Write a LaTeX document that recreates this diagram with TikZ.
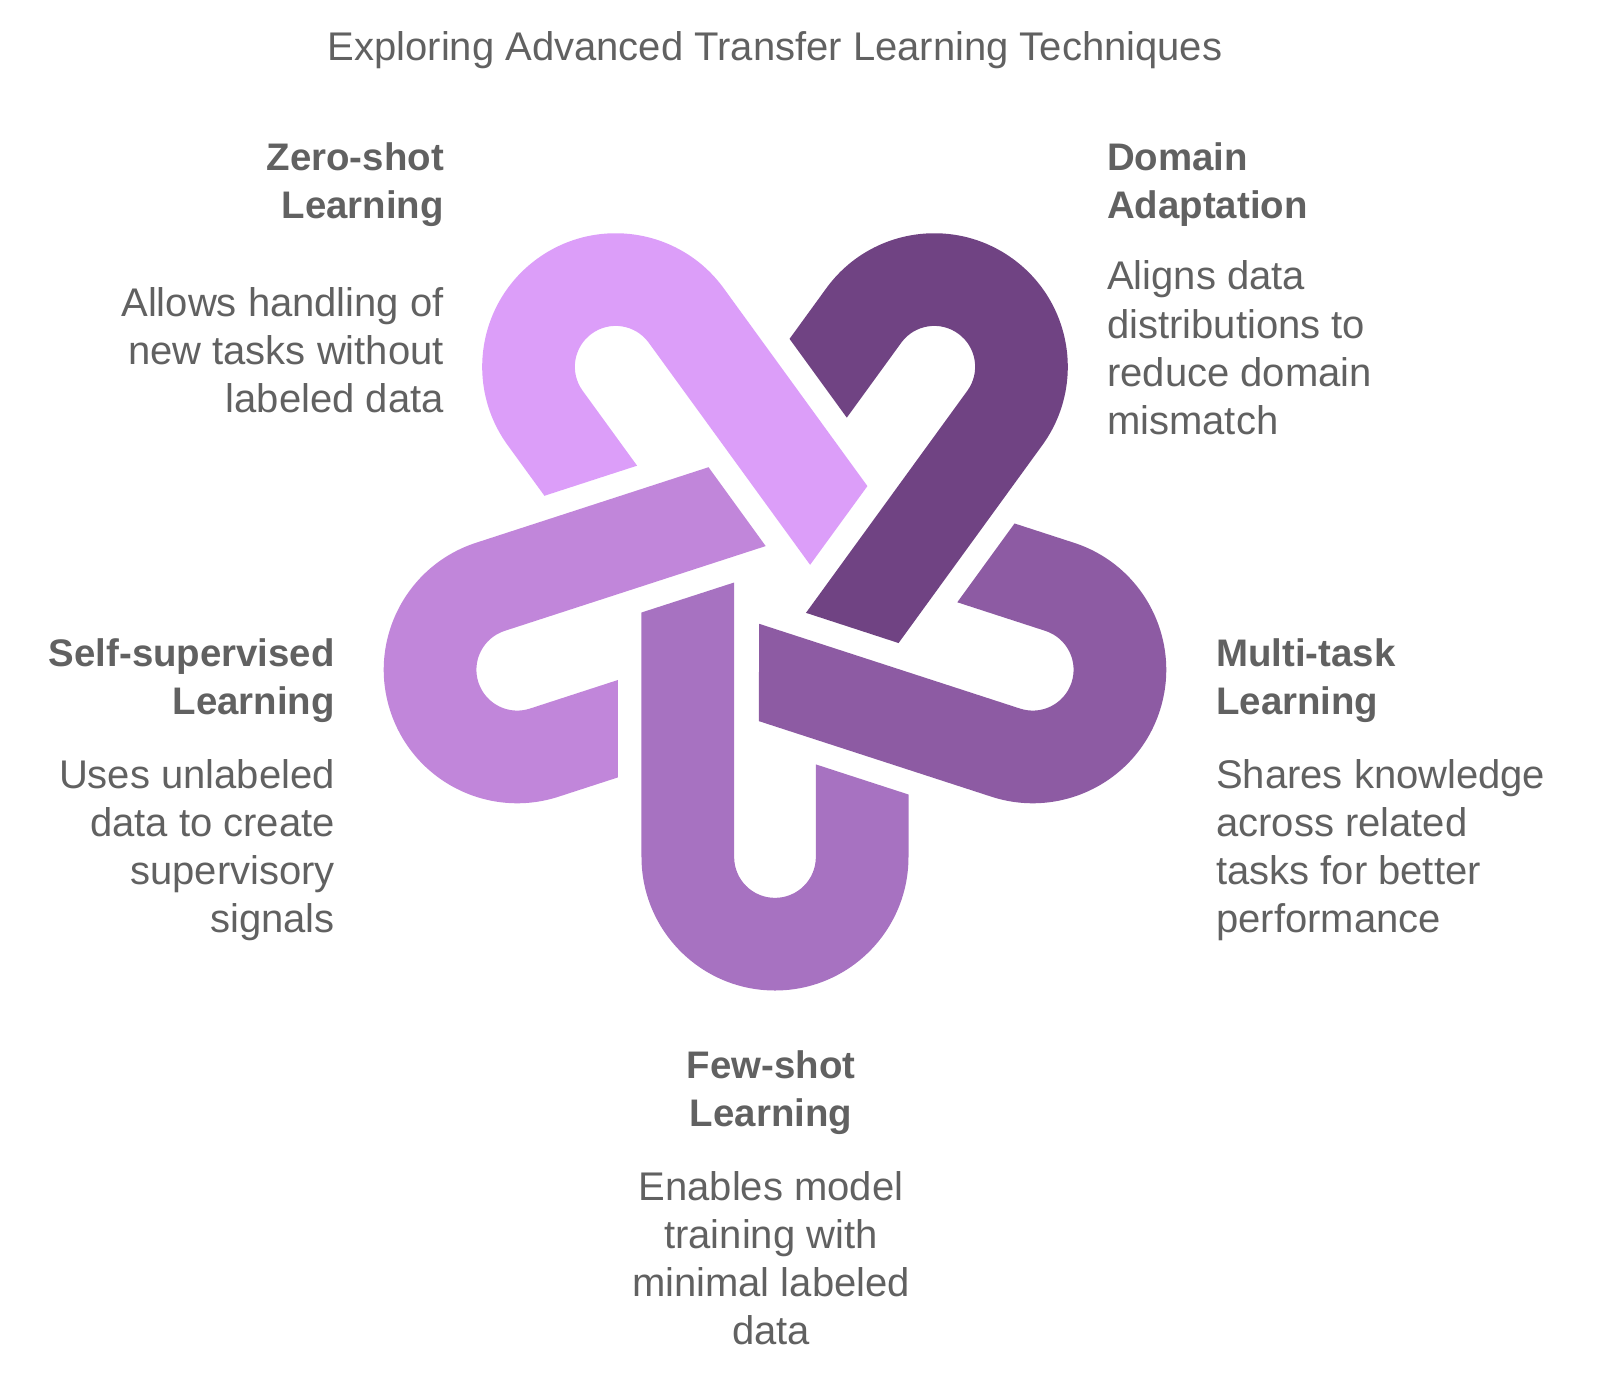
\documentclass[tikz,border=0pt]{standalone}
\usepackage{fontspec}
\setmainfont{Liberation Sans}
\definecolor{zerocol}{HTML}{DC9EF9}
\definecolor{domaincol}{HTML}{704383}
\definecolor{multicol}{HTML}{8D5BA3}
\definecolor{fewcol}{HTML}{A772C1}
\definecolor{selfcol}{HTML}{C186DA}
\definecolor{textgray}{HTML}{616161}

\begin{document}
\begin{tikzpicture}[x=1pt,y=1pt,
        headtext/.style={font=\bfseries\fontsize{38.4}{48}\selectfont, text=textgray, inner sep=0pt},
        bodytext/.style={font=\fontsize{40}{48}\selectfont, text=textgray, inner sep=0pt}]
        % Page size of the reference
        \useasboundingbox (-775,-796) rectangle (825,586);
        % Draw the five loops, turned round the centre
        \foreach \ang/\col in {0/fewcol,72/multicol,144/domaincol,216/zerocol,288/selfcol} {
            \fill[\col, rotate=\ang] (-133.5,-26.5) -- (-133.5,-271)
                arc[start angle=180, end angle=360, radius=133.5]
                -- (133.5,-208.5) -- (40.85,-178.4) -- (40.85,-271)
                arc[start angle=0, end angle=-180, radius=40.85]
                -- (-40.85,3.5) -- cycle;
        }
        % Title
        \node[bodytext, anchor=base] (title) at (0,525) {Exploring Advanced Transfer Learning Techniques};
        % Zero-shot
        \foreach \t [count=\i from 0] in {Zero-shot,Learning}
            \node[headtext, anchor=base east] (zerohead\i) at (-331,415-48*\i) {\t};
        \foreach \t [count=\i from 0] in {Allows handling of,new tasks without,labeled data}
            \node[bodytext, anchor=base east] (zerobody\i) at (-331,270-48*\i) {\t};
        % Domain adaptation
        \foreach \t [count=\i from 0] in {Domain,Adaptation}
            \node[headtext, anchor=base west] (domainhead\i) at (332,415-48*\i) {\t};
        \foreach \t [count=\i from 0] in {Aligns data,distributions to,reduce domain,mismatch}
            \node[bodytext, anchor=base west] (domainbody\i) at (332,296-48*\i) {\t};
        % Self-supervised
        \foreach \t [count=\i from 0] in {Self-supervised,Learning}
            \node[headtext, anchor=base east] (selfhead\i) at (-440,-80-48*\i) {\t};
        \foreach \t [count=\i from 0] in {Uses unlabeled,data to create,supervisory,signals}
            \node[bodytext, anchor=base east] (selfbody\i) at (-440,-202-48*\i) {\t};
        % Multi-task
        \foreach \t [count=\i from 0] in {Multi-task,Learning}
            \node[headtext, anchor=base west] (multihead\i) at (441,-80-48*\i) {\t};
        \foreach \t [count=\i from 0] in {Shares knowledge,across related,tasks for better,performance}
            \node[bodytext, anchor=base west] (multibody\i) at (441,-202-48*\i) {\t};
        % Few-shot
        \foreach \t [count=\i from 0] in {Few-shot,Learning}
            \node[headtext, anchor=base] (fewhead\i) at (-4,-492-48*\i) {\t};
        \foreach \t [count=\i from 0] in {Enables model,training with,minimal labeled,data}
            \node[bodytext, anchor=base] (fewbody\i) at (-4,-614-48*\i) {\t};
\end{tikzpicture}
\end{document}
